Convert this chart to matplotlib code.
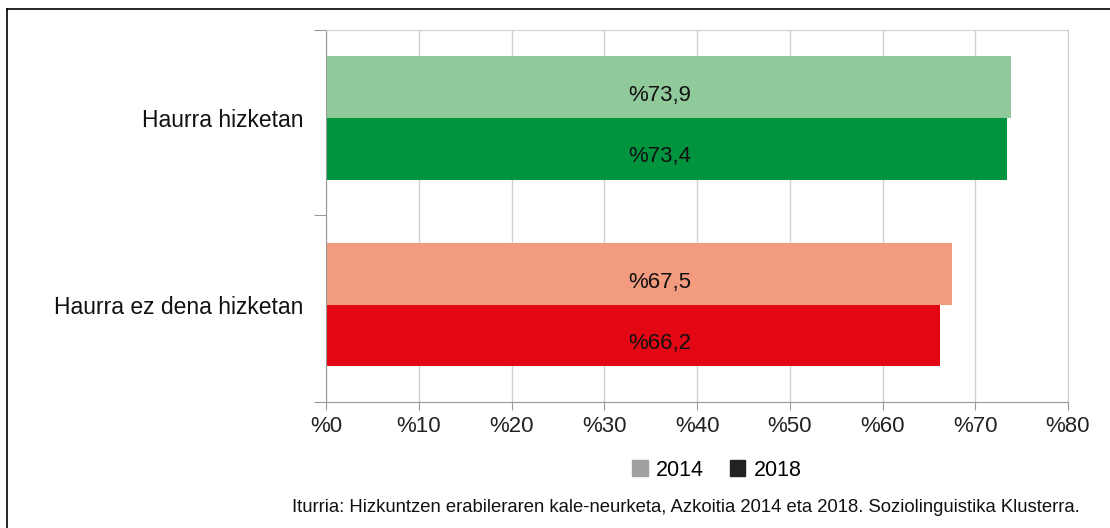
import matplotlib.pyplot as plt
from matplotlib.patches import Patch
import numpy as np

plt.rcParams['font.family'] = ['Liberation Sans', 'DejaVu Sans']

categories = ['Haurra hizketan', 'Haurra ez dena hizketan']
years = ['2014', '2018']
values_2014 = [73.9, 67.5]
values_2018 = [73.4, 66.2]
colors_2014 = ['#90c99a', '#f29b7f']
colors_2018 = ['#00943f', '#e30613']
legend_colors = ['#a0a0a0', '#222222']
xticks = [0, 10, 20, 30, 40, 50, 60, 70, 80]
source = 'Iturria: Hizkuntzen erabileraren kale-neurketa, Azkoitia 2014 eta 2018. Soziolinguistika Klusterra.'


def pct(v):
    return '%' + '{:.1f}'.format(v).replace('.', ',')


fig = plt.figure(figsize=(11.1, 5.28), dpi=100)
ax = fig.add_axes([326 / 1110, 1 - 402 / 528, (1068 - 326) / 1110, (402 - 30) / 528])

y = np.arange(len(categories))
h = 0.33
ax.barh(y - h / 2, values_2014, height=h, color=colors_2014, zorder=2)
ax.barh(y + h / 2, values_2018, height=h, color=colors_2018, zorder=2)
# labels sit a little below the bar centre in the original
dy = 0.03
for i in range(len(categories)):
    ax.text(36, y[i] - h / 2 + dy, pct(values_2014[i]), ha='center', va='center_baseline', fontsize=16,
            color='#111111', zorder=3)
    ax.text(36, y[i] + h / 2 + dy, pct(values_2018[i]), ha='center', va='center_baseline', fontsize=16,
            color='#111111', zorder=3)

ax.set_ylim(1.52, -0.47)
ax.set_xlim(0, 80)
ax.set_xticks(xticks)
ax.set_xticklabels(['%' + str(t) for t in xticks], fontsize=16, color='#222222')
ax.set_yticks([-0.47, 0.52, 1.52], minor=False)
ax.set_yticklabels([])
ax.set_yticks(y, minor=True)
ax.set_yticklabels(categories, minor=True, fontsize=16.5, color='#111111')
ax.tick_params(axis='y', which='minor', length=0, pad=16)
ax.tick_params(axis='y', which='major', length=9, color='#999999')
ax.tick_params(axis='x', length=6, color='#999999', pad=4)
ax.grid(axis='x', color='#d0d0d0', linewidth=1, zorder=0)
for s in ['top', 'right']:
    ax.spines[s].set_color('#d0d0d0')
for s in ['left', 'bottom']:
    ax.spines[s].set_color('#999999')

handles = [Patch(color=c, label=yr) for c, yr in zip(legend_colors, years)]
fig.legend(handles=handles, loc='center', bbox_to_anchor=(717 / 1110, 1 - 470 / 528), ncol=2,
           frameon=False, fontsize=15.5, handlelength=0.7, handleheight=0.7, handletextpad=0.4,
           columnspacing=1.2)

fig.text(686 / 1110, 1 - 507 / 528, source, ha='center', va='center', fontsize=13.3, color='#111111')

# border of the original image (top and left edges only)
fig.add_artist(plt.Line2D([7 / 1110, 1], [1 - 9 / 528, 1 - 9 / 528], color='black', linewidth=1.2))
fig.add_artist(plt.Line2D([7 / 1110, 7 / 1110], [0, 1 - 9 / 528], color='black', linewidth=1.2))

fig.savefig('out.png', dpi=100)
